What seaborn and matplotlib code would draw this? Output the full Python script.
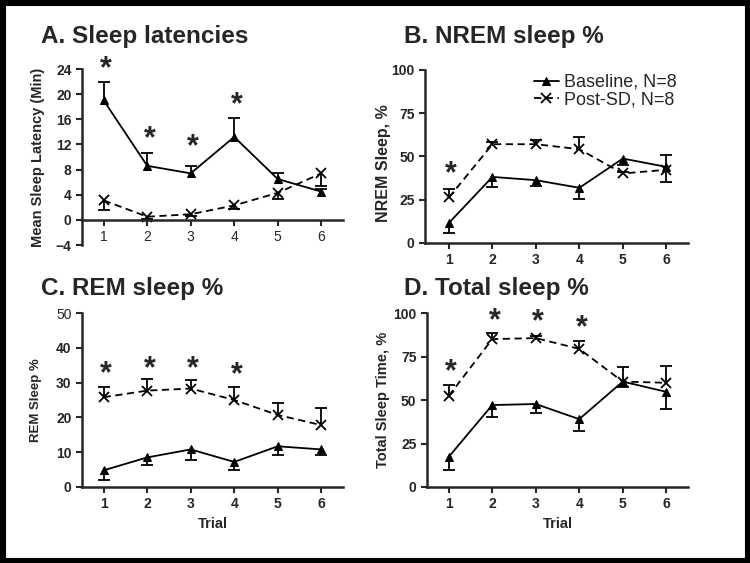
import matplotlib

matplotlib.use("Agg")

import matplotlib.pyplot as plt
import numpy as np
import pandas as pd
import seaborn as sns
from matplotlib.patches import Rectangle


TRIALS = [1, 2, 3, 4, 5, 6]

# A. Sleep latencies (min)
latency_base = [19.0, 8.6, 7.4, 13.2, 6.5, 4.5]
latency_base_sem = [3.0, 2.1, 1.1, 3.0, 1.0, 0.4]
latency_post = [3.1, 0.5, 0.9, 2.3, 4.3, 7.4]
latency_post_sem = [1.6, 0.3, 0.3, 0.5, 0.9, 2.0]
latency_stars = [1, 2, 3, 4]
latency_star_y = [24.0, 12.9, 11.5, 18.3]

# B. NREM sleep %
nrem_base = [11.6, 38.2, 36.3, 31.9, 48.8, 44.0]
nrem_base_sem = [5.6, 5.8, 3.5, 6.6, 3.7, 8.7]
nrem_post = [26.3, 57.1, 57.1, 54.2, 40.2, 42.3]
nrem_post_sem = [4.8, 1.4, 2.4, 6.8, 1.0, 8.6]
nrem_stars = [1]
nrem_star_y = [39.5]

# C. REM sleep %
rem_base = [4.8, 8.5, 10.8, 7.2, 11.7, 10.8]
rem_base_sem = [2.7, 2.3, 2.9, 2.2, 2.6, 1.7]
rem_post = [25.8, 27.7, 28.3, 25.0, 20.7, 17.8]
rem_post_sem = [3.0, 3.4, 2.5, 3.6, 3.3, 5.0]
rem_stars = [1, 2, 3, 4]
rem_star_y = [32.5, 33.8, 33.8, 32.2]

# D. Total sleep %
total_base = [17.3, 47.1, 47.7, 39.0, 60.6, 54.7]
total_base_sem = [7.3, 6.7, 5.0, 6.9, 3.1, 9.9]
total_post = [52.3, 85.0, 85.6, 79.4, 60.6, 59.9]
total_post_sem = [6.4, 3.5, 1.4, 4.3, 8.4, 9.6]
total_stars = [1, 2, 3, 4]
total_star_y = [66.0, 95.5, 94.5, 91.0]


def draw_panel(ax, base, base_sem, post, post_sem, base_up, stars, star_y):
    df = pd.DataFrame({
        "Trial": TRIALS * 2,
        "value": base + post,
        "group": ["Baseline, N=8"] * 6 + ["Post-SD, N=8"] * 6,
    })
    sns.lineplot(
        data=df[df["group"] == "Baseline, N=8"], x="Trial", y="value", ax=ax,
        color="black", marker="^", markersize=6, linewidth=1.3,
        label="Baseline, N=8", markeredgecolor="black",
    )
    sns.lineplot(
        data=df[df["group"] == "Post-SD, N=8"], x="Trial", y="value", ax=ax,
        color="black", marker="x", markersize=7, markeredgewidth=1.3,
        markeredgecolor="black", linewidth=1.3, linestyle=(0, (4, 2.5)),
        label="Post-SD, N=8",
    )

    zeros = np.zeros(6)
    for mean, sem, up in [(base, base_sem, base_up), (post, post_sem, not base_up)]:
        yerr = [zeros, np.array(sem)] if up else [np.array(sem), zeros]
        _, caps, _ = ax.errorbar(
            TRIALS, mean, yerr=yerr, fmt="none", ecolor="black",
            elinewidth=1.3, capsize=4, capthick=1.3,
        )
        # keep only the cap at the far end of the bar
        caps[0 if up else 1].set_visible(False)

    for x, y in zip(stars, star_y):
        ax.text(x + 0.05, y, "*", ha="center", va="center",
                fontsize=22, fontweight="bold")

    ax.set_xticks(TRIALS)
    ax.set_xlabel("")
    for side in ["top", "right"]:
        ax.spines[side].set_visible(False)
    for side in ["left", "bottom"]:
        ax.spines[side].set_linewidth(1.8)
    ax.tick_params(width=1.5, length=4, labelsize=10, direction="out")
    for lbl in ax.get_xticklabels() + ax.get_yticklabels():
        lbl.set_fontweight("bold")
    ax.get_legend().remove()


sns.set_theme(style="ticks")
plt.rcParams["font.family"] = ["Liberation Sans", "DejaVu Sans"]

fig = plt.figure(figsize=(7.5, 5.63), dpi=100)

ax_a = fig.add_axes([0.1093, 0.5648, 0.348, 0.3126])
ax_b = fig.add_axes([0.5667, 0.5684, 0.3507, 0.3073])
ax_c = fig.add_axes([0.1093, 0.135, 0.348, 0.309])
ax_d = fig.add_axes([0.5693, 0.135, 0.348, 0.309])

draw_panel(ax_a, latency_base, latency_base_sem, latency_post, latency_post_sem,
           True, latency_stars, latency_star_y)
draw_panel(ax_b, nrem_base, nrem_base_sem, nrem_post, nrem_post_sem,
           False, nrem_stars, nrem_star_y)
draw_panel(ax_c, rem_base, rem_base_sem, rem_post, rem_post_sem,
           False, rem_stars, rem_star_y)
draw_panel(ax_d, total_base, total_base_sem, total_post, total_post_sem,
           False, total_stars, total_star_y)

ax_a.set_ylim(-4, 24)
ax_a.set_yticks(range(-4, 25, 4))
ax_a.spines["bottom"].set_position(("data", 0))
ax_a.set_xlim(0.5, 6.5)
ax_a.set_ylabel("Mean Sleep Latency (Min)", fontsize=10.5, fontweight="bold")
ax_a.yaxis.set_label_coords(-0.142, 0.5)

ax_b.set_ylim(0, 100)
ax_b.set_yticks([0, 25, 50, 75, 100])
ax_b.set_xlim(0.45, 6.5)
ax_b.set_ylabel("NREM Sleep, %", fontsize=11.5, fontweight="bold")
ax_b.yaxis.set_label_coords(-0.128, 0.46)

ax_c.set_ylim(0, 50)
ax_c.set_yticks([0, 10, 20, 30, 40, 50])
ax_c.set_xlim(0.5, 6.5)
ax_c.set_ylabel("REM Sleep %", fontsize=9.5, fontweight="bold")
ax_c.yaxis.set_label_coords(-0.153, 0.5)
ax_c.set_xlabel("Trial", fontsize=10.5, fontweight="bold")

ax_d.set_ylim(0, 100)
ax_d.set_yticks([0, 25, 50, 75, 100])
ax_d.set_xlim(0.5, 6.5)
ax_d.set_ylabel("Total Sleep Time, %", fontsize=10.5, fontweight="bold")
ax_d.yaxis.set_label_coords(-0.142, 0.5)
ax_d.set_xlabel("Trial", fontsize=10.5, fontweight="bold")

handles, labels = ax_b.get_legend_handles_labels()
ax_b.legend(handles[:2], labels[:2], loc="upper right", frameon=False,
            fontsize=13, handlelength=1.4, handletextpad=0.3,
            borderaxespad=0.2, labelspacing=0.05, bbox_to_anchor=(1.0, 1.04))

title_kw = dict(fontsize=17.5, fontweight="bold", va="center", ha="left")
fig.text(41 / 750, 1 - 37 / 563, "A. Sleep latencies", **title_kw)
fig.text(404 / 750, 1 - 37 / 563, "B. NREM sleep %", **title_kw)
fig.text(41 / 750, 1 - 288 / 563, "C. REM sleep %", **title_kw)
fig.text(404 / 750, 1 - 288 / 563, "D. Total sleep %", **title_kw)

fig.patches.append(Rectangle((0, 0), 1, 1, transform=fig.transFigure,
                             fill=False, edgecolor="black", linewidth=8))

fig.savefig("out.png", dpi=100)
